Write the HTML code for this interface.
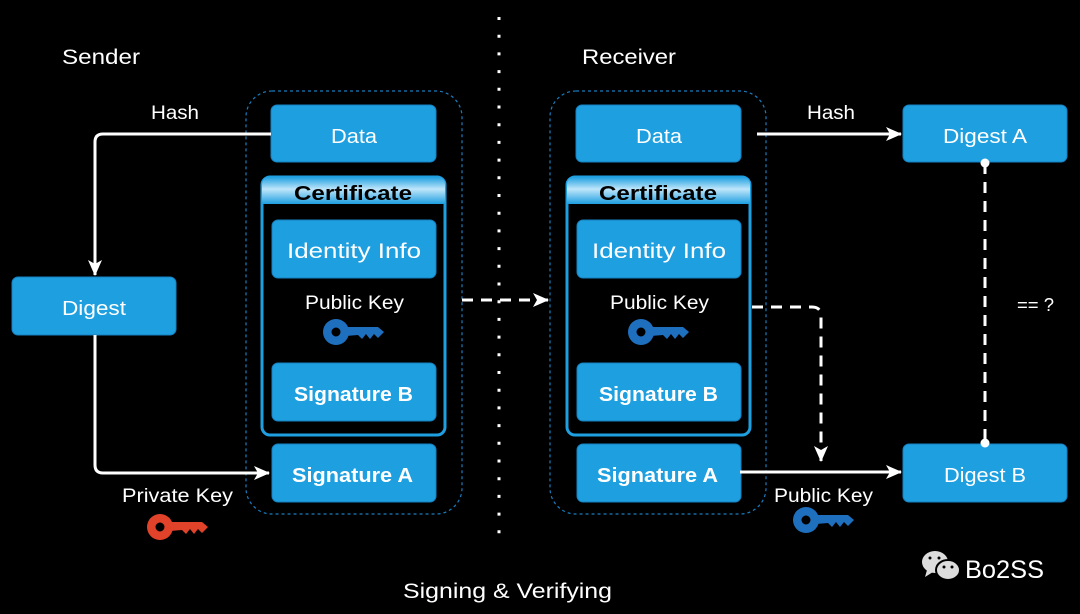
<!DOCTYPE html>
<html><head><meta charset="utf-8"><style>
html,body{margin:0;padding:0;background:#000;}
svg{display:block;}
text{font-family:"Liberation Sans",sans-serif;}
</style></head><body>
<svg width="1080" height="614" viewBox="0 0 1080 614" xmlns="http://www.w3.org/2000/svg">
<defs>
<linearGradient id="hg" x1="0" y1="0" x2="0" y2="1">
<stop offset="0" stop-color="#1e9fe0"/><stop offset="0.45" stop-color="#bfe6fb"/><stop offset="1" stop-color="#1e9fe0"/>
</linearGradient>
<g id="key">
<path d="M0,-13 A13,13 0 1 1 0,13 A13,13 0 1 1 0,-13 Z M0,-4.5 A4.5,4.5 0 1 0 0,4.5 A4.5,4.5 0 1 0 0,-4.5 Z" fill-rule="evenodd"/>
<path d="M10,-5 L42,-5 L48,0 L42,6 L38,2 L34,7 L30,2 L26,7 L22,3 L10,4 Z"/>
</g>
<marker id="ar2" markerWidth="16" markerHeight="16" refX="15" refY="8" orient="auto" markerUnits="userSpaceOnUse"><path d="M0,1 L16,8 L0,15 L4,8 Z" fill="#fff"/></marker>
</defs>
<rect width="1080" height="614" fill="#000"/>
<line x1="499" y1="17" x2="499" y2="548" stroke="#fff" stroke-width="3" stroke-dasharray="3 14.7"/>
<text x="62" y="64" fill="#fff" font-size="21" textLength="78" lengthAdjust="spacingAndGlyphs">Sender</text>
<text x="582" y="64" fill="#fff" font-size="21" textLength="94" lengthAdjust="spacingAndGlyphs">Receiver</text>
<text x="403" y="598" fill="#fff" font-size="21" textLength="209" lengthAdjust="spacingAndGlyphs">Signing &amp; Verifying</text>

<rect x="246" y="91" width="216" height="423" rx="26" fill="none" stroke="#1a7dbf" stroke-width="1.2" stroke-dasharray="3 3"/>
<rect x="550" y="91" width="216" height="423" rx="26" fill="none" stroke="#1a7dbf" stroke-width="1.2" stroke-dasharray="3 3"/>

<g id="stack">
<rect x="271" y="105" width="165" height="57" rx="6" fill="#1e9fe0" stroke="#1580c0"/>
<text x="331" y="143" fill="#fff" font-size="20" textLength="46" lengthAdjust="spacingAndGlyphs">Data</text>
<rect x="262" y="177" width="183" height="258" rx="8" fill="#000" stroke="#1e9fe0" stroke-width="3"/>
<path d="M262,204 L262,185 Q262,177 270,177 L437,177 Q445,177 445,185 L445,204 Z" fill="url(#hg)"/>
<text x="294" y="200" fill="#000" font-size="20" font-weight="bold" textLength="118" lengthAdjust="spacingAndGlyphs">Certificate</text>
<rect x="272" y="220" width="164" height="58" rx="6" fill="#1e9fe0" stroke="#1580c0"/>
<text x="287" y="258" fill="#fff" font-size="21" textLength="134" lengthAdjust="spacingAndGlyphs">Identity Info</text>
<text x="305" y="309" fill="#fff" font-size="19" textLength="99" lengthAdjust="spacingAndGlyphs">Public Key</text>
<use href="#key" x="336" y="332" fill="#1f6fbf"/>
<rect x="272" y="363" width="164" height="58" rx="6" fill="#1e9fe0" stroke="#1580c0"/>
<text x="294" y="401" fill="#fff" font-size="20" font-weight="bold" textLength="119" lengthAdjust="spacingAndGlyphs">Signature B</text>
<rect x="272" y="444" width="164" height="58" rx="6" fill="#1e9fe0" stroke="#1580c0"/>
<text x="292" y="482" fill="#fff" font-size="20" font-weight="bold" textLength="121" lengthAdjust="spacingAndGlyphs">Signature A</text>
</g>
<use href="#stack" x="305" y="0"/>

<rect x="12" y="277" width="164" height="58" rx="6" fill="#1e9fe0" stroke="#1580c0"/>
<text x="62" y="315" fill="#fff" font-size="20" textLength="64" lengthAdjust="spacingAndGlyphs">Digest</text>
<rect x="903" y="105" width="164" height="57" rx="6" fill="#1e9fe0" stroke="#1580c0"/>
<text x="943" y="143" fill="#fff" font-size="20" textLength="84" lengthAdjust="spacingAndGlyphs">Digest A</text>
<rect x="903" y="444" width="164" height="58" rx="6" fill="#1e9fe0" stroke="#1580c0"/>
<text x="944" y="482" fill="#fff" font-size="20" textLength="82" lengthAdjust="spacingAndGlyphs">Digest B</text>

<path d="M271,134 L103,134 Q95,134 95,142 L95,275" fill="none" stroke="#fff" stroke-width="3" marker-end="url(#ar2)"/>
<text x="151" y="119" fill="#fff" font-size="19" textLength="48" lengthAdjust="spacingAndGlyphs">Hash</text>
<path d="M95,335 L95,465 Q95,473 103,473 L269,473" fill="none" stroke="#fff" stroke-width="3" marker-end="url(#ar2)"/>
<text x="122" y="502" fill="#fff" font-size="19" textLength="111" lengthAdjust="spacingAndGlyphs">Private Key</text>
<use href="#key" x="160" y="527" fill="#e0422a"/>

<line x1="462" y1="300" x2="548" y2="300" stroke="#fff" stroke-width="3" stroke-dasharray="11 8" marker-end="url(#ar2)"/>

<line x1="757" y1="134" x2="901" y2="134" stroke="#fff" stroke-width="3" marker-end="url(#ar2)"/>
<text x="807" y="119" fill="#fff" font-size="19" textLength="48" lengthAdjust="spacingAndGlyphs">Hash</text>
<line x1="740" y1="472" x2="901" y2="472" stroke="#fff" stroke-width="3" marker-end="url(#ar2)"/>
<path d="M752,307 L812,307 Q821,307 821,316 L821,461" fill="none" stroke="#fff" stroke-width="3" stroke-dasharray="11 8" marker-end="url(#ar2)"/>
<text x="774" y="502" fill="#fff" font-size="19" textLength="99" lengthAdjust="spacingAndGlyphs">Public Key</text>
<use href="#key" x="806" y="520" fill="#1f6fbf"/>
<line x1="985" y1="163" x2="985" y2="443" stroke="#fff" stroke-width="3" stroke-dasharray="11 8"/>
<circle cx="985" cy="163" r="4.5" fill="#fff"/>
<circle cx="985" cy="443" r="4.5" fill="#fff"/>
<text x="1017" y="311" fill="#fff" font-size="18" textLength="37" lengthAdjust="spacingAndGlyphs">== ?</text>

<ellipse cx="935" cy="562" rx="13" ry="11" fill="#ddd"/>
<path d="M927,570 L925,577 L933,572 Z" fill="#ddd"/>
<ellipse cx="948" cy="570" rx="12" ry="10" fill="#ddd" stroke="#000" stroke-width="2"/>
<circle cx="930" cy="558" r="1.5" fill="#000"/><circle cx="939" cy="558" r="1.5" fill="#000"/>
<circle cx="944" cy="567" r="1.5" fill="#000"/><circle cx="952" cy="567" r="1.5" fill="#000"/>
<text x="965" y="578" fill="#fff" font-size="25" textLength="79" lengthAdjust="spacingAndGlyphs">Bo2SS</text>
</svg>
</body></html>
